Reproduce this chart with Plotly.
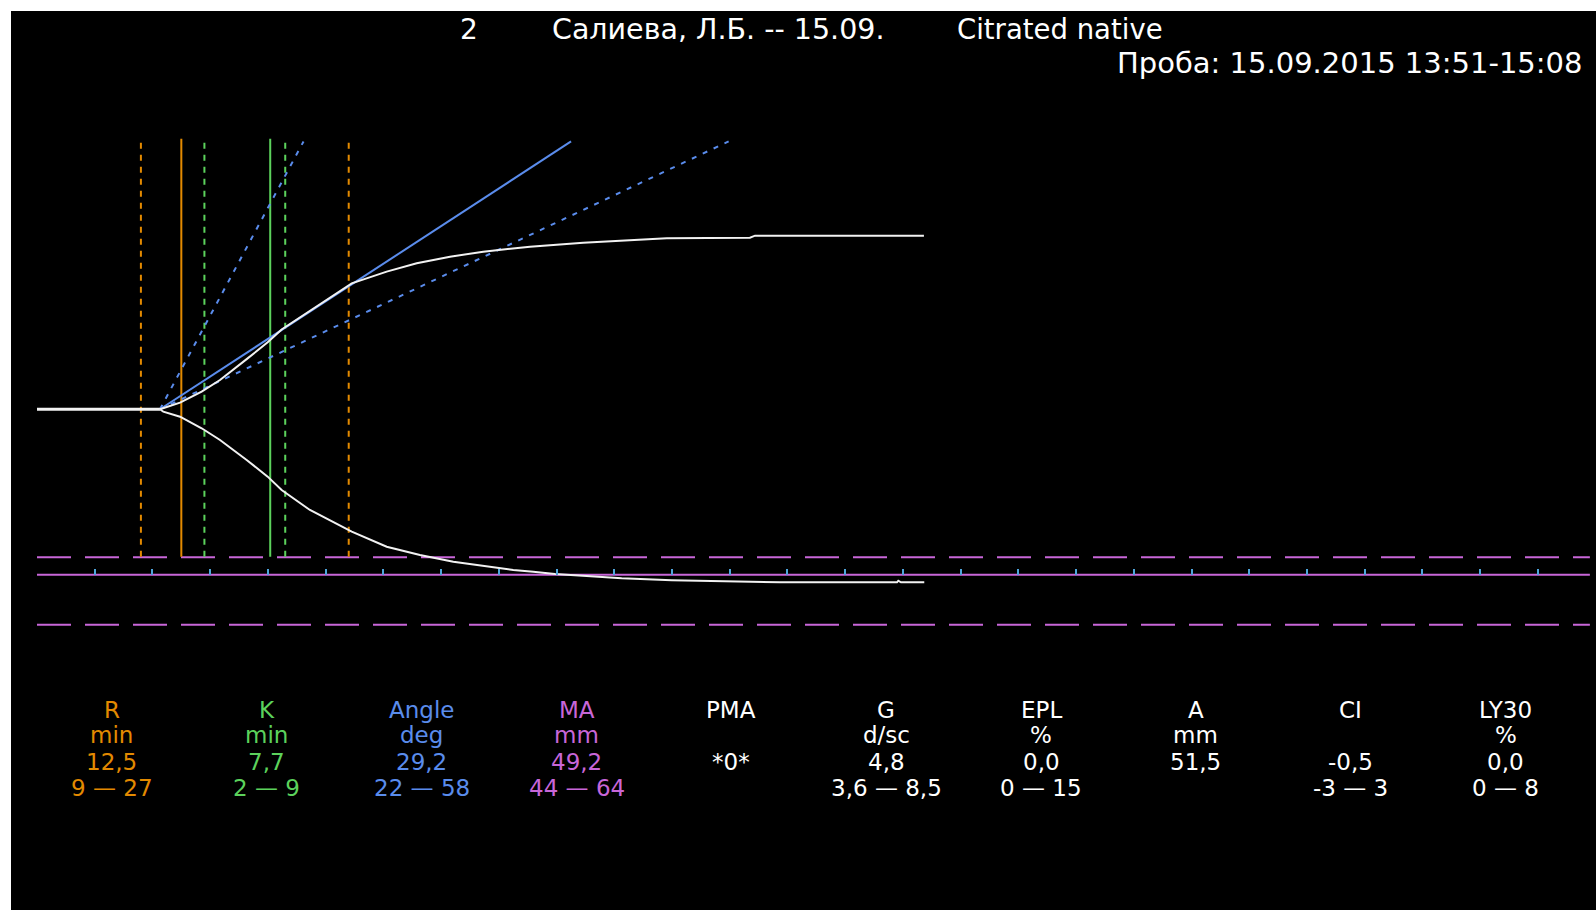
import math
import plotly.graph_objects as go

# ---------------- tracing: time (min) vs half-amplitude (mm) ----------------
upper_t = [10.65, 12.39, 14.26, 15.85, 18.16, 19.98, 21.19, 23.64, 27.26, 30.29,
           32.89, 35.77, 38.65, 42.70, 47.31, 54.54, 61.75, 62.19, 76.82]
upper_mm = [0.0, 0.98, 2.62, 4.35, 7.45, 9.95, 11.85, 14.65, 18.72, 20.45,
            21.69, 22.67, 23.42, 24.16, 24.75, 25.41, 25.50, 25.80, 25.80]

lower_t = [10.65, 10.94, 12.39, 14.26, 15.85, 18.16, 19.98, 21.19, 23.64, 27.26,
           30.29, 33.17, 36.06, 38.95, 41.25, 42.98, 44.86, 47.61, 50.64, 54.97,
           64.35, 74.49, 74.60, 74.83, 76.85]
lower_mm = [0.0, -0.36, -1.10, -2.82, -4.56, -7.53, -10.01, -11.99, -14.96, -18.19,
            -20.42, -21.65, -22.64, -23.39, -23.88, -24.13, -24.47, -24.77, -25.11, -25.41,
            -25.71, -25.71, -25.47, -25.71, -25.71]

# ---------------- results ----------------
R = 12.5
R_RANGE = [9, 27]
K = 7.7
K_RANGE = [2, 9]
ANGLE = 29.2
ANGLE_RANGE = [22, 58]
MA = 49.2
MA_RANGE = [44, 64]
G = 4.8
G_RANGE = [3.6, 8.5]
EPL = 0.0
EPL_RANGE = [0, 15]
A = 51.5
CI = -0.5
CI_RANGE = [-3, 3]
LY30 = 0.0
LY30_RANGE = [0, 8]

PARAM_NAMES = ["R", "K", "Angle", "MA", "PMA", "G", "EPL", "A", "CI", "LY30"]
PARAM_UNITS = ["min", "min", "deg", "mm", "", "d/sc", "%", "mm", "", "%"]

# time ticks (min)
TICK_MIN = [5, 10, 15, 20, 25, 30, 35, 40, 45, 50, 55, 60, 65, 70, 75, 80, 85,
            90, 95, 100, 105, 110, 115, 120, 125, 130]

TITLE_NO = "2"
TITLE_NAME = "Салиева, Л.Б. -- 15.09."
TITLE_SAMPLE = "Citrated native"
TITLE_TIME = "Проба: 15.09.2015 13:51-15:08"

# ---------------- styling ----------------
ORANGE = "#e38a00"
GREEN = "#5cd25c"
BLUE = "#5a8cec"
MAGENTA = "#c866d8"
TICKC = "#4fa6dc"
TRACE = "#f2f2f2"
FONT = "DejaVu Sans"

PAPER_SPEED = 2.0          # mm per minute, used for the angle construction
X_RANGE = [-2.252, 135.03]
Y_RANGE = [-74.40, 59.18]
V_TOP, V_BOT = 40.2, -21.9  # extent of the time markers (mm)
ANGLE_TOP = 39.8
LINE_END = 134.5

W, H = 1596, 910
ML, MT = 11, 11


def fmt(v):
    return f"{v:.1f}".replace(".", ",")


def fmt_range(r, dec=False):
    if dec:
        return f"{fmt(r[0])} \u2014 {fmt(r[1])}"
    return f"{r[0]} \u2014 {r[1]}"


fig = go.Figure()

# MA reference lines (lower half)
for lvl in MA_RANGE:
    fig.add_trace(go.Scatter(x=[0, LINE_END], y=[-lvl / 2, -lvl / 2], mode="lines",
                             line=dict(color=MAGENTA, width=2, dash="34px,14px"),
                             hoverinfo="skip", showlegend=False))
fig.add_trace(go.Scatter(x=[0, LINE_END], y=[-MA / 2, -MA / 2], mode="lines",
                         line=dict(color=MAGENTA, width=2),
                         hoverinfo="skip", showlegend=False))


def vline(t, color, dash):
    fig.add_trace(go.Scatter(x=[t, t], y=[V_BOT, V_TOP], mode="lines",
                             line=dict(color=color, width=2, dash=dash),
                             hoverinfo="skip", showlegend=False))


# R and K markers
for r in R_RANGE:
    vline(r, ORANGE, "6px,6px")
vline(R, ORANGE, "solid")
for k in K_RANGE:
    vline(R + k, GREEN, "6px,6px")
vline(R + K, GREEN, "solid")

# angle construction from the split point
t0 = upper_t[0]
for ang, dash in [(ANGLE_RANGE[1], "5px,7px"), (ANGLE, "solid"), (ANGLE_RANGE[0], "5px,7px")]:
    slope = PAPER_SPEED * math.tan(math.radians(ang))
    fig.add_trace(go.Scatter(x=[t0, t0 + ANGLE_TOP / slope], y=[0, ANGLE_TOP], mode="lines",
                             line=dict(color=BLUE, width=2, dash=dash),
                             hoverinfo="skip", showlegend=False))

# tracing
fig.add_trace(go.Scatter(x=[0, t0], y=[0, 0], mode="lines",
                         line=dict(color=TRACE, width=3), hoverinfo="skip", showlegend=False))
fig.add_trace(go.Scatter(x=upper_t, y=upper_mm, mode="lines",
                         line=dict(color=TRACE, width=2), hoverinfo="skip", showlegend=False))
fig.add_trace(go.Scatter(x=lower_t, y=lower_mm, mode="lines",
                         line=dict(color=TRACE, width=2), hoverinfo="skip", showlegend=False))


# ---------------- text ----------------
def px_x(px):
    return (px - ML) / (W - ML)


def px_y(py):
    return 1 - (py - MT) / (H - MT)


ann = []


def text(s, x, y, size, color="white", xanchor="center"):
    ann.append(dict(text=s, x=px_x(x), y=px_y(y), xref="paper", yref="paper",
                    xanchor=xanchor, yanchor="middle", showarrow=False,
                    font=dict(family=FONT, size=size, color=color)))


text(TITLE_NO, 469, 29.5, 28)
text(TITLE_NAME, 550, 29.5, 28.5, xanchor="left")
text(TITLE_SAMPLE, 955, 29.5, 27.5, xanchor="left")
text(TITLE_TIME, 1584, 63, 29, xanchor="right")

values = [fmt(R), fmt(K), fmt(ANGLE), fmt(MA), "*0*", fmt(G), fmt(EPL), fmt(A),
          fmt(CI), fmt(LY30)]
ranges = [fmt_range(R_RANGE), fmt_range(K_RANGE), fmt_range(ANGLE_RANGE), fmt_range(MA_RANGE),
          "", fmt_range(G_RANGE, dec=True), fmt_range(EPL_RANGE), "",
          fmt_range(CI_RANGE), fmt_range(LY30_RANGE)]
colors = [ORANGE, GREEN, BLUE, MAGENTA] + ["white"] * 6

col_x0, col_dx = 112, 154.84
rows_y = [709.6, 735, 761.6, 788]
for i, name in enumerate(PARAM_NAMES):
    cx = col_x0 + col_dx * i
    for j, s in enumerate([name, PARAM_UNITS[i], values[i], ranges[i]]):
        if s:
            text(s, cx, rows_y[j], 23, colors[i])

pos = (-MA / 2 - Y_RANGE[0]) / (Y_RANGE[1] - Y_RANGE[0])

fig.update_layout(
    width=W, height=H, autosize=False,
    margin=dict(l=ML, r=0, t=MT, b=0, pad=0),
    paper_bgcolor="white", plot_bgcolor="black",
    annotations=ann,
    xaxis=dict(range=X_RANGE, showgrid=False, zeroline=False, showline=False,
               showticklabels=False, ticks="inside", ticklen=6, tickwidth=2,
               tickcolor=TICKC, tickvals=TICK_MIN, anchor="free", position=pos,
               fixedrange=True),
    yaxis=dict(range=Y_RANGE, showgrid=False, zeroline=False, showline=False,
               showticklabels=False, ticks="", fixedrange=True),
    showlegend=False,
)

fig.write_html("out.html", config={"displayModeBar": False})
